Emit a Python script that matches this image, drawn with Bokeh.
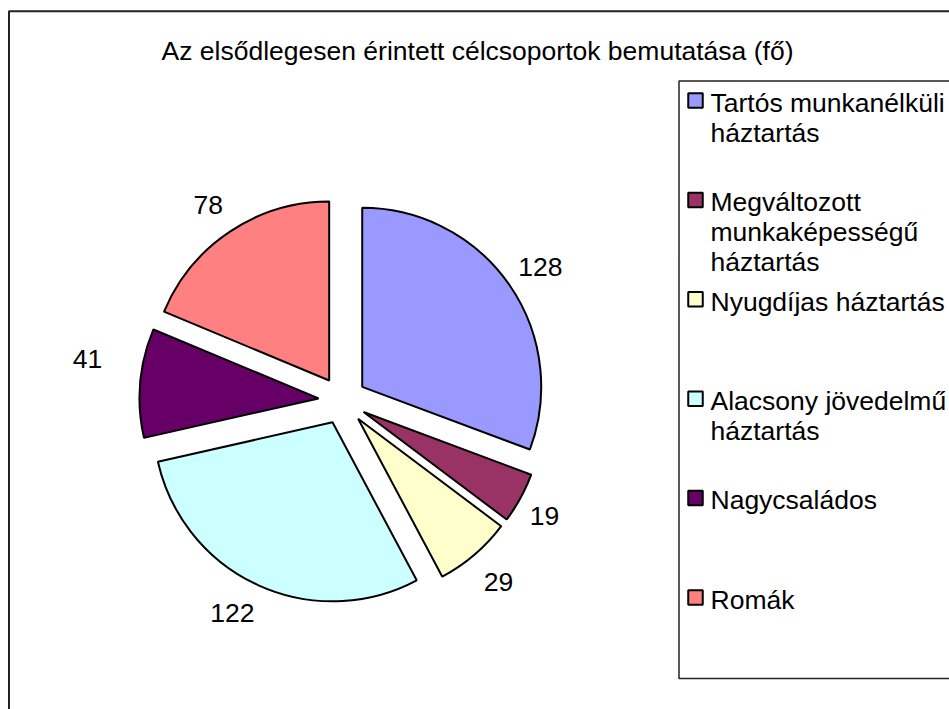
import numpy as np
from bokeh.plotting import figure
from bokeh.models import Range1d
from bokeh.core.properties import value
from bokeh.embed import file_html
from bokeh.resources import INLINE

# ---------------- data ----------------
title = "Az elsődlegesen érintett célcsoportok bemutatása (fő)"
categories = [
    "Tartós munkanélküli háztartás",
    "Megváltozott munkaképességű háztartás",
    "Nyugdíjas háztartás",
    "Alacsony jövedelmű háztartás",
    "Nagycsaládos",
    "Romák",
]
values = [128, 19, 29, 122, 41, 78]
legend_lines = [
    ["Tartós munkanélküli", "háztartás"],
    ["Megváltozott", "munkaképességű", "háztartás"],
    ["Nyugdíjas háztartás"],
    ["Alacsony jövedelmű", "háztartás"],
    ["Nagycsaládos"],
    ["Romák"],
]
colors = ["#9999FF", "#993366", "#FFFFCC", "#CCFFFF", "#660066", "#FF8080"]

# ---------------- layout ----------------
W, H = 949, 709
OX, OY = 0, 0
FONT = value("Liberation Sans")
FS = "26.5px"
TEXT_DY = 9.0   # renderer baseline correction (screen px, upward)


def dx(sx):
    return sx - OX


def dy(sy):
    return (OY + H) - sy


PIE_CX, PIE_CY = 342.0, 400.0   # screen px
RADIUS = 179.0
EXPLODE = 24.0
label_dist = [239.0, 232.3, 239.0, 239.3, 258.4, 237.6]
label_ang_adj = [0.6, 0.9, -0.15, 2.8, 4.4, -0.75]
LEG_FIRST = 111.3
LEG_PITCH = 99.4
LINE_H = 29.8

p = figure(width=W, height=H, output_backend="svg", toolbar_location=None,
           x_range=Range1d(0, W), y_range=Range1d(0, H),
           x_axis_location=None, y_axis_location=None, min_border=0,
           outline_line_color=None, background_fill_color="white",
           border_fill_color="white")
p.grid.visible = False

vals = np.array(values, dtype=float)
total = vals.sum()
cum = np.concatenate([[0.0], np.cumsum(vals)])
start_c = cum[:-1] / total * 360.0      # clockwise from 12 o'clock
end_c = cum[1:] / total * 360.0
bis = (start_c + end_c) / 2.0
bis_r = np.radians(bis)

cx = dx(PIE_CX) + EXPLODE * np.sin(bis_r)
cy = dy(PIE_CY) + EXPLODE * np.cos(bis_r)

p.wedge(x=cx, y=cy, radius=RADIUS,
        start_angle=np.radians(90.0 - end_c), end_angle=np.radians(90.0 - start_c),
        fill_color=colors, line_color="black", line_width=2)

# data labels
lab_r = np.radians(bis + np.array(label_ang_adj))
ld = np.array(label_dist)
lx = dx(PIE_CX) + ld * np.sin(lab_r)
ly = dy(PIE_CY) + ld * np.cos(lab_r) - 9.4 + TEXT_DY
p.text(x=lx, y=ly, text=[str(v) for v in values], text_align="center",
       text_baseline="alphabetic", text_font=FONT, text_font_size=FS,
       text_color="black")

# title
p.text(x=[dx(477)], y=[dy(59.3) + TEXT_DY], text=[title], text_align="center",
       text_baseline="alphabetic", text_font=FONT, text_font_size=FS,
       text_color="black")

# legend
legend_base = [LEG_FIRST + LEG_PITCH * i for i in range(len(values))]
p.line(x=[W + 5, dx(678.5), dx(678.5), W + 5],
       y=[dy(80.5), dy(80.5), dy(678.0), dy(678.0)],
       line_color="#222222", line_width=1.5)
sq_y = [dy(b - 11.3) for b in legend_base]
p.rect(x=[dx(695)] * len(values), y=sq_y, width=14.5, height=14.5,
       fill_color=colors, line_color="black", line_width=2)
tx, ty, tt = [], [], []
for base, lines in zip(legend_base, legend_lines):
    for i, ln in enumerate(lines):
        tx.append(dx(710))
        ty.append(dy(base + i * LINE_H) + TEXT_DY)
        tt.append(ln)
p.text(x=tx, y=ty, text=tt, text_align="left", text_baseline="alphabetic",
       text_font=FONT, text_font_size=FS, text_color="black")

# chart border (left and top visible)
p.line(x=[8.5, 8.5, W + 5], y=[-5, dy(10.8), dy(10.8)],
       line_color="#222222", line_width=2)

open("out.html", "w").write(file_html(p, INLINE))
